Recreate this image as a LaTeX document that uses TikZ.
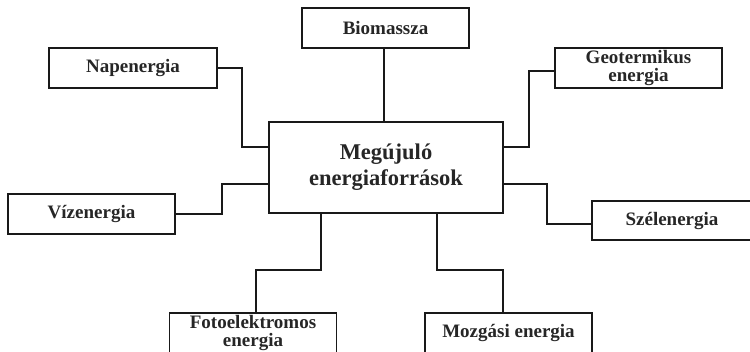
\documentclass[tikz,border=0pt]{standalone}
\usepackage{fontspec}
\setmainfont{Liberation Serif}
\begin{document}
\begin{tikzpicture}[x=1pt,y=-1pt,
  box/.style={draw=black!90,line width=1.7pt,rectangle,inner sep=0pt,
    minimum width=167pt,minimum height=40pt,align=center,text=black!85,
    font=\bfseries\fontsize{19}{16}\selectfont},
  conn/.style={draw=black!90,line width=1.6pt}]
\useasboundingbox (0,0) rectangle (750,351);
\clip (0,0) rectangle (750,351);
\node[box,minimum width=234pt,minimum height=91pt,
  font=\bfseries\fontsize{22.5}{26}\selectfont] (main) at (386,167.5) {Megújuló\\energiaforrások};
\node[box,minimum width=168pt] (nap) at (133,68) {Napenergia};
\node[box] (bio) at (385.5,28) {Biomassza};
\node[box] (geo) at (638.5,68) {\raisebox{2pt}{\begin{tabular}{@{}c@{}}Geotermikus\\energia\end{tabular}}};
\node[box] (viz) at (91.5,214) {Vízenergia};
\node[box,minimum width=160pt,minimum height=39pt] (szel) at (672,220.5) {Szélenergia};
\node[box,font=\bfseries\fontsize{19}{18}\selectfont] (foto) at (253,333) {Fotoelektromos\\energia};
\node[box] (mozg) at (508.5,333) {\raisebox{2pt}{Mozgási energia}};
\draw[conn] ([xshift=-1.5pt]bio.south) -- ([xshift=-1.5pt]bio.south |- main.north);
\draw[conn] (nap.east) -| (242,147) -- ([yshift=20.5pt]main.west);
\draw[conn] (viz.east) -| (222,184) -- ([yshift=-16.5pt]main.west);
\draw[conn] ([yshift=20.5pt]main.east) -| (529,71) -- ([yshift=-3pt]geo.west);
\draw[conn] ([yshift=-16.5pt]main.east) -| (547,224) -- ([yshift=-3.5pt]szel.west);
\draw[conn] ([xshift=-65pt]main.south) |- (256,270) -- ([xshift=3pt]foto.north);
\draw[conn] ([xshift=51pt]main.south) |- (503,270) -- ([xshift=-5.5pt]mozg.north);
\end{tikzpicture}
\end{document}
